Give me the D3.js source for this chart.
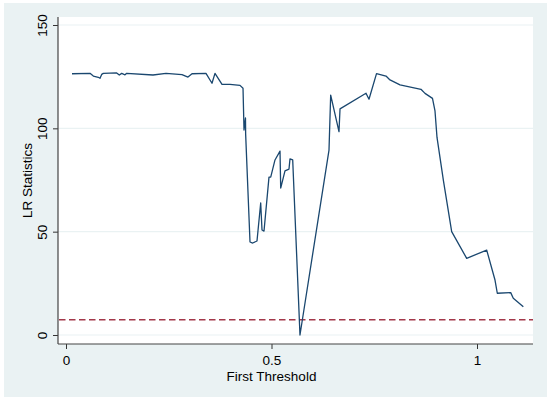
<!DOCTYPE html>
<html>
<head>
<meta charset="utf-8">
<script src="https://cdn.jsdelivr.net/npm/d3@7"></script>
<style>
  body { margin: 0; background: #ffffff; }
  text { font-family: "Liberation Sans", Arial, sans-serif; fill: #000; }
</style>
</head>
<body>
<div id="lr_chart"></div>
<script>
// threshold values (x) and LR statistics (y)
const threshold = [0.0146, 0.0584, 0.0665, 0.0786, 0.0827, 0.0868, 0.0908, 0.1233, 0.1297, 0.1355,
  0.1436, 0.1477, 0.2117, 0.2433, 0.2822, 0.2968, 0.3066, 0.3406, 0.3552, 0.3625,
  0.3796, 0.3990, 0.4234, 0.4307, 0.4331, 0.4367, 0.4371, 0.4477, 0.4542, 0.4647,
  0.4737, 0.4769, 0.4818, 0.4939, 0.4981, 0.5085, 0.5207, 0.5224, 0.5328, 0.5426,
  0.5450, 0.5516, 0.5693, 0.6399, 0.6440, 0.6642, 0.6667, 0.7299, 0.7372, 0.7555,
  0.7786, 0.7871, 0.8127, 0.8637, 0.8735, 0.8917, 0.8978, 0.9027, 0.9185, 0.9384,
  0.9749, 1.0236, 1.0438, 1.0494, 1.0820, 1.0883, 1.1127];
const lrStat = [126.4, 126.6, 125.3, 124.7, 124.2, 126.1, 126.6, 126.8, 125.8, 126.6,
  125.9, 126.6, 125.8, 126.6, 126.0, 124.8, 126.4, 126.6, 121.8, 126.6,
  121.3, 121.3, 120.8, 119.4, 99.2, 105.0, 97.2, 45.0, 44.5, 45.5,
  63.9, 50.8, 50.3, 76.4, 76.4, 84.7, 89.0, 71.1, 79.4, 80.3,
  85.2, 84.7, 0.0, 89.5, 116.1, 98.4, 109.4, 117.0, 114.1, 126.5,
  125.3, 123.6, 121.0, 118.9, 116.9, 114.5, 108.4, 95.6, 74.5, 50.0,
  37.1, 41.1, 26.6, 20.2, 20.5, 17.8, 13.7];
const criticalValue = 7.35;
const xTicks = [0, 0.5, 1];
const xTickLabels = ["0", "0.5", "1"];
const yTicks = [0, 50, 100, 150];

function draw_lr_chart() {
  const W = 550, H = 403;
  // plot region edges
  const plot = {left: 58, top: 17, right: 533, bottom: 344};

  const svg = d3.select("#lr_chart")
    .append("svg")
      .attr("width", W)
      .attr("height", H);

  // graph region background
  svg.append("rect")
    .attr("x", 4).attr("y", 3)
    .attr("width", 543).attr("height", 394)
    .attr("fill", "#eaf2f3");

  svg.append("rect")
    .attr("x", plot.left).attr("y", plot.top)
    .attr("width", plot.right - plot.left).attr("height", plot.bottom - plot.top)
    .attr("fill", "#ffffff");

  const x = d3.scaleLinear().domain([0, 1]).range([66, 477]);
  const y = d3.scaleLinear().domain([0, 150]).range([335, 25]);

  // grid lines
  svg.append("g")
    .selectAll("line")
    .data(yTicks)
    .join("line")
      .attr("x1", plot.left).attr("x2", plot.right)
      .attr("y1", d => y(d)).attr("y2", d => y(d))
      .attr("stroke", "#eaf2f3")
      .attr("stroke-width", 1.2);

  // critical value
  svg.append("line")
    .attr("x1", plot.left + 1).attr("x2", plot.right)
    .attr("y1", y(criticalValue)).attr("y2", y(criticalValue))
    .attr("stroke", "#a3384a")
    .attr("stroke-width", 1.4)
    .attr("stroke-dasharray", "6.5,3.5");

  // LR statistic line
  const pts = threshold.map((t, i) => ({t: t, v: lrStat[i]}));
  const line = d3.line()
    .x(d => x(d.t))
    .y(d => y(d.v));
  svg.append("path")
    .datum(pts)
    .attr("d", line)
    .attr("fill", "none")
    .attr("stroke", "#1a476f")
    .attr("stroke-width", 1.3)
    .attr("stroke-linejoin", "round");

  // Y axis
  const yAxis = svg.append("g")
    .attr("transform", `translate(${plot.left}, 0)`)
    .call(d3.axisLeft(y).tickValues(yTicks).tickSize(5).tickFormat(d3.format("d")));
  yAxis.select(".domain").remove();
  yAxis.selectAll(".tick line").attr("stroke", "#333");
  yAxis.selectAll(".tick text")
    .attr("x", 0).attr("y", 0).attr("dy", 0)
    .attr("transform", "translate(-11,0) rotate(-90)")
    .attr("text-anchor", "middle")
    .style("font-size", "13.5px");
  svg.append("line")
    .attr("x1", plot.left).attr("x2", plot.left)
    .attr("y1", plot.top).attr("y2", plot.bottom)
    .attr("stroke", "#444").attr("stroke-width", 1.2);

  // X axis
  const xAxis = svg.append("g")
    .attr("transform", `translate(0, ${plot.bottom})`)
    .call(d3.axisBottom(x).tickValues(xTicks).tickSize(5)
      .tickFormat((d, i) => xTickLabels[i]));
  xAxis.select(".domain").remove();
  xAxis.selectAll(".tick line").attr("stroke", "#333");
  xAxis.selectAll(".tick text")
    .attr("y", 21).attr("dy", 0)
    .style("font-size", "13.5px");
  svg.append("line")
    .attr("x1", plot.left).attr("x2", plot.right)
    .attr("y1", plot.bottom).attr("y2", plot.bottom)
    .attr("stroke", "#444").attr("stroke-width", 1.2);

  // axis titles
  svg.append("text")
    .attr("x", x(0.5)).attr("y", 380.5)
    .attr("text-anchor", "middle")
    .style("font-size", "13.5px")
    .text("First Threshold");

  svg.append("text")
    .attr("transform", `translate(32, ${(plot.top + plot.bottom) / 2}) rotate(-90)`)
    .attr("text-anchor", "middle")
    .style("font-size", "13.5px")
    .text("LR Statistics");
}

draw_lr_chart();
</script>
</body>
</html>
